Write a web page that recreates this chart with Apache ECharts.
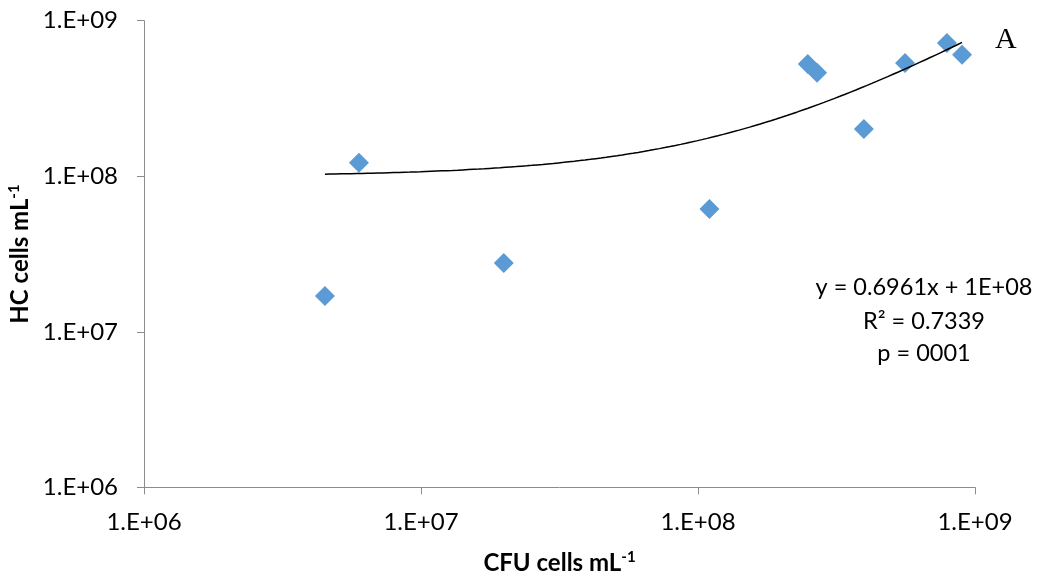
<!DOCTYPE html>
<html>
<head>
<meta charset="utf-8">
<script src="https://cdn.jsdelivr.net/npm/echarts@6/dist/echarts.min.js"></script>
<style>
html,body{margin:0;padding:0;background:#fff;}
#chart{width:1037px;height:577px;}
</style>
</head>
<body>
<div id="chart"></div>
<script>
// Data (CFU cells mL-1 vs HC cells mL-1)
const cfuValues = [4.50e6, 5.97e6, 1.99e7, 1.10e8, 2.49e8, 2.69e8, 3.97e8, 5.59e8, 7.92e8, 8.98e8];
const hcValues  = [1.70e7, 1.22e8, 2.77e7, 6.16e7, 5.27e8, 4.62e8, 2.01e8, 5.35e8, 7.20e8, 6.03e8];
const xTickLabels = ['1.E+06', '1.E+07', '1.E+08', '1.E+09'];
const yTickLabels = ['1.E+06', '1.E+07', '1.E+08', '1.E+09'];
const trendSlope = 0.6961;
const trendIntercept = 1e8;
const equationLines = ['y = 0.6961x + 1E+08', 'R² = 0.7339', 'p = 0001'];
const panelLabel = 'A';

const scatterData = cfuValues.map((x, i) => [x, hcValues[i]]);
const xMin = Math.min(...cfuValues), xMax = Math.max(...cfuValues);
const trendData = [];
const nSteps = 120;
for (let i = 0; i <= nSteps; i++) {
  const x = Math.pow(10, Math.log10(xMin) + (Math.log10(xMax) - Math.log10(xMin)) * i / nSteps);
  trendData.push([x, trendSlope * x + trendIntercept]);
}
const labelFor = (arr) => (v) => {
  const e = Math.round(Math.log10(v)) - 6;
  return arr[e] !== undefined ? arr[e] : '';
};
const font = 'Lato, "Open Sans", sans-serif';
const axisColor = '#8c8c8c';
const titleRich = {
  b: {fontFamily: font, fontWeight: 'bold', fontSize: 24, color: '#000'},
  sup: {fontFamily: font, fontWeight: 'bold', fontSize: 15, color: '#000', verticalAlign: 'top', padding: [0,0,12,0]}
};

const chart = echarts.init(document.getElementById('chart'), null, {renderer: 'canvas'});
chart.setOption({
  animation: false,
  backgroundColor: '#fff',
  grid: {left: 144, right: 62, top: 20.7, bottom: 89.7, containLabel: false, outerBoundsMode: 'none'},
  xAxis: {
    type: 'log', logBase: 10, min: 1e6, max: 1e9,
    name: '{b|CFU cells mL}{sup|-1}', nameLocation: 'middle', nameGap: 62,
    nameTextStyle: {rich: titleRich},
    axisLine: {show: true, lineStyle: {color: axisColor, width: 1}},
    axisTick: {show: true, inside: false, length: 7, lineStyle: {color: axisColor}},
    minorTick: {show: false},
    splitLine: {show: false},
    axisLabel: {formatter: labelFor(xTickLabels), fontFamily: font, fontSize: 24, color: '#000', margin: 23}
  },
  yAxis: {
    type: 'log', logBase: 10, min: 1e6, max: 1e9,
    name: '{b|HC cells mL}{sup|-1}', nameLocation: 'middle', nameGap: 108, nameRotate: 90,
    nameTextStyle: {rich: titleRich},
    axisLine: {show: true, lineStyle: {color: axisColor, width: 1}},
    axisTick: {show: true, inside: false, length: 7, lineStyle: {color: axisColor}},
    minorTick: {show: false},
    splitLine: {show: false},
    axisLabel: {formatter: labelFor(yTickLabels), fontFamily: font, fontSize: 24, color: '#000', margin: 26}
  },
  series: [
    {
      type: 'line', data: trendData, showSymbol: false, symbol: 'none', smooth: false,
      lineStyle: {color: '#000', width: 1.5}, z: 3, silent: true
    },
    {
      type: 'scatter', data: scatterData, symbol: 'diamond', symbolSize: 20,
      itemStyle: {color: '#5b9bd5', opacity: 1}, z: 2
    }
  ],
  graphic: [
    {type: 'text', left: 995, top: 25, style: {text: panelLabel, font: '30px "Liberation Serif", "Times New Roman", serif', fill: '#000'}},
    {type: 'text', x: 924, y: 287, style: {text: equationLines[0], font: '23.5px ' + font, fill: '#000', textAlign: 'center', textVerticalAlign: 'middle'}},
    {type: 'text', x: 924, y: 321, style: {text: equationLines[1], font: '23.5px ' + font, fill: '#000', textAlign: 'center', textVerticalAlign: 'middle'}},
    {type: 'text', x: 924, y: 353, style: {text: equationLines[2], font: '23.5px ' + font, fill: '#000', textAlign: 'center', textVerticalAlign: 'middle'}}
  ]
});
</script>
</body>
</html>
